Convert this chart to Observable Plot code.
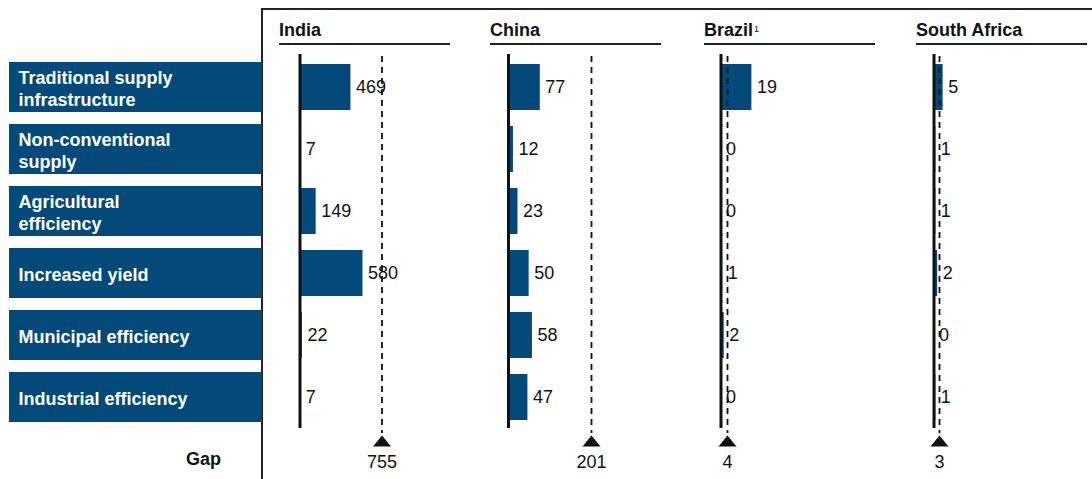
<!DOCTYPE html>
<html><head><meta charset="utf-8">
<script src="https://cdn.jsdelivr.net/npm/d3@7"></script>
<script src="https://cdn.jsdelivr.net/npm/@observablehq/plot@0.6"></script>
<style>
html,body{margin:0;padding:0;background:#fff;}
#chart{position:relative;width:1092px;height:479px;overflow:hidden;font-family:"Liberation Sans",Arial,sans-serif;color:#111;}
.frame{position:absolute;left:261px;top:8px;right:-5px;bottom:-5px;border-top:2px solid #222;border-left:2px solid #222;}
.panel{position:absolute;top:0;height:479px;}
.hdr{position:absolute;top:20px;height:20px;line-height:20px;padding-bottom:3px;border-bottom:2px solid #222;font-size:18px;font-weight:bold;width:171px;white-space:nowrap;}
.hdr sup{font-size:9px;font-weight:normal;vertical-align:baseline;position:relative;top:-4px;margin-left:1px;}
.panel svg,.lbl svg{position:absolute;left:0;top:0;}
.lbl{position:absolute;left:0;top:0;width:262px;height:479px;}
</style></head><body><div id="chart"><div class="frame"></div></div>
<script>
const categories = ["Traditional supply infrastructure","Non-conventional supply","Agricultural efficiency","Increased yield","Municipal efficiency","Industrial efficiency"];
const categoryLabels = ["Traditional supply\ninfrastructure","Non-conventional\nsupply","Agricultural\nefficiency","Increased yield","Municipal efficiency","Industrial efficiency"];
const countries = ["India","China","Brazil","South Africa"];
const countryFootnotes = ["","","1",""];
const india = [469, 7, 149, 580, 22, 7];
const china = [77, 12, 23, 50, 58, 47];
const brazil = [19, 0, 0, 1, 2, 0];
const southAfrica = [5, 1, 1, 2, 0, 1];
const gaps = [755, 201, 4, 3];
const gapLabel = "Gap";

const series = [india, china, brazil, southAfrica];
const BLUE = "#034A7B";
const INK = "#111";
const FONT = "'Liberation Sans', Arial, Helvetica, sans-serif";
const chart = document.getElementById("chart");

const yOpts = () => ({domain: categories, range: [60, 424], paddingInner: 0.2, paddingOuter: 0, axis: null});

// Left column: category boxes
const lbl = document.createElement("div");
lbl.className = "lbl";
lbl.appendChild(Plot.plot({
  width: 262, height: 479,
  marginLeft: 9, marginRight: 0, marginTop: 60, marginBottom: 55,
  style: {fontFamily: FONT, background: "transparent", overflow: "visible"},
  x: {domain: [0, 1], axis: null},
  y: yOpts(),
  marks: [
    Plot.barX(categories, {y: d => d, x1: 0, x2: 1, fill: BLUE}),
    Plot.text(categories, {y: d => d, frameAnchor: "left", dx: 9, text: (d, i) => categoryLabels[i],
      fill: "white", fontWeight: "bold", fontSize: 18, textAnchor: "start", lineHeight: 1.22}),
    Plot.text([gapLabel], {frameAnchor: "bottom", dx: 67.5, dy: 40, fontWeight: "bold", fontSize: 18, fill: INK})
  ]
}));
chart.appendChild(lbl);

// Panels
const panelLeft = [266, 478, 692, 904];
const panelWidth = [212, 214, 212, 188];
const headerLeft = [13, 12, 12, 12];
const axisX = [299.5, 508, 720.5, 933.5];
const dashX = [381.5, 591, 727, 939];

const flatTriangle = {
  draw(context) {
    context.moveTo(0, -5.5);
    context.lineTo(9, 5.5);
    context.lineTo(-9, 5.5);
    context.closePath();
  }
};

countries.forEach((name, i) => {
  const left = panelLeft[i];
  const data = categories.map((c, j) => ({category: c, value: series[i][j]}));
  const div = document.createElement("div");
  div.className = "panel";
  div.style.left = left + "px";
  div.style.width = panelWidth[i] + "px";
  const p = Plot.plot({
    width: panelWidth[i], height: 479,
    marginTop: 54, marginBottom: 51, marginLeft: 0, marginRight: 0,
    style: {fontFamily: FONT, background: "transparent", overflow: "visible"},
    x: {domain: [0, gaps[i]], range: [axisX[i] - left, dashX[i] - left], axis: null},
    y: yOpts(),
    marks: [
      Plot.barX(data, {x: "value", y: "category", fill: BLUE, insetTop: 2, insetBottom: 2}),
      Plot.ruleX([0], {stroke: INK, strokeWidth: 3}),
      Plot.ruleX([gaps[i]], {stroke: INK, strokeWidth: 1.8, strokeDasharray: "6,5", insetTop: 2, insetBottom: -5}),
      Plot.text(data, {x: "value", y: "category", text: d => String(d.value), textAnchor: "start", dx: 5, fontSize: 18, fill: INK}),
      Plot.dot([gaps[i]], {x: d => d, frameAnchor: "bottom", dy: 12.5, symbol: flatTriangle, fill: INK, stroke: "none"}),
      Plot.text([gaps[i]], {x: d => d, frameAnchor: "bottom", dy: 39, text: d => String(d), fontSize: 18, fill: INK})
    ]
  });
  div.appendChild(p);
  const hdr = document.createElement("div");
  hdr.className = "hdr";
  hdr.style.left = headerLeft[i] + "px";
  hdr.textContent = name;
  if (countryFootnotes[i]) {
    const sup = document.createElement("sup");
    sup.textContent = countryFootnotes[i];
    hdr.appendChild(sup);
  }
  div.appendChild(hdr);
  chart.appendChild(div);
});
</script>
</body></html>
